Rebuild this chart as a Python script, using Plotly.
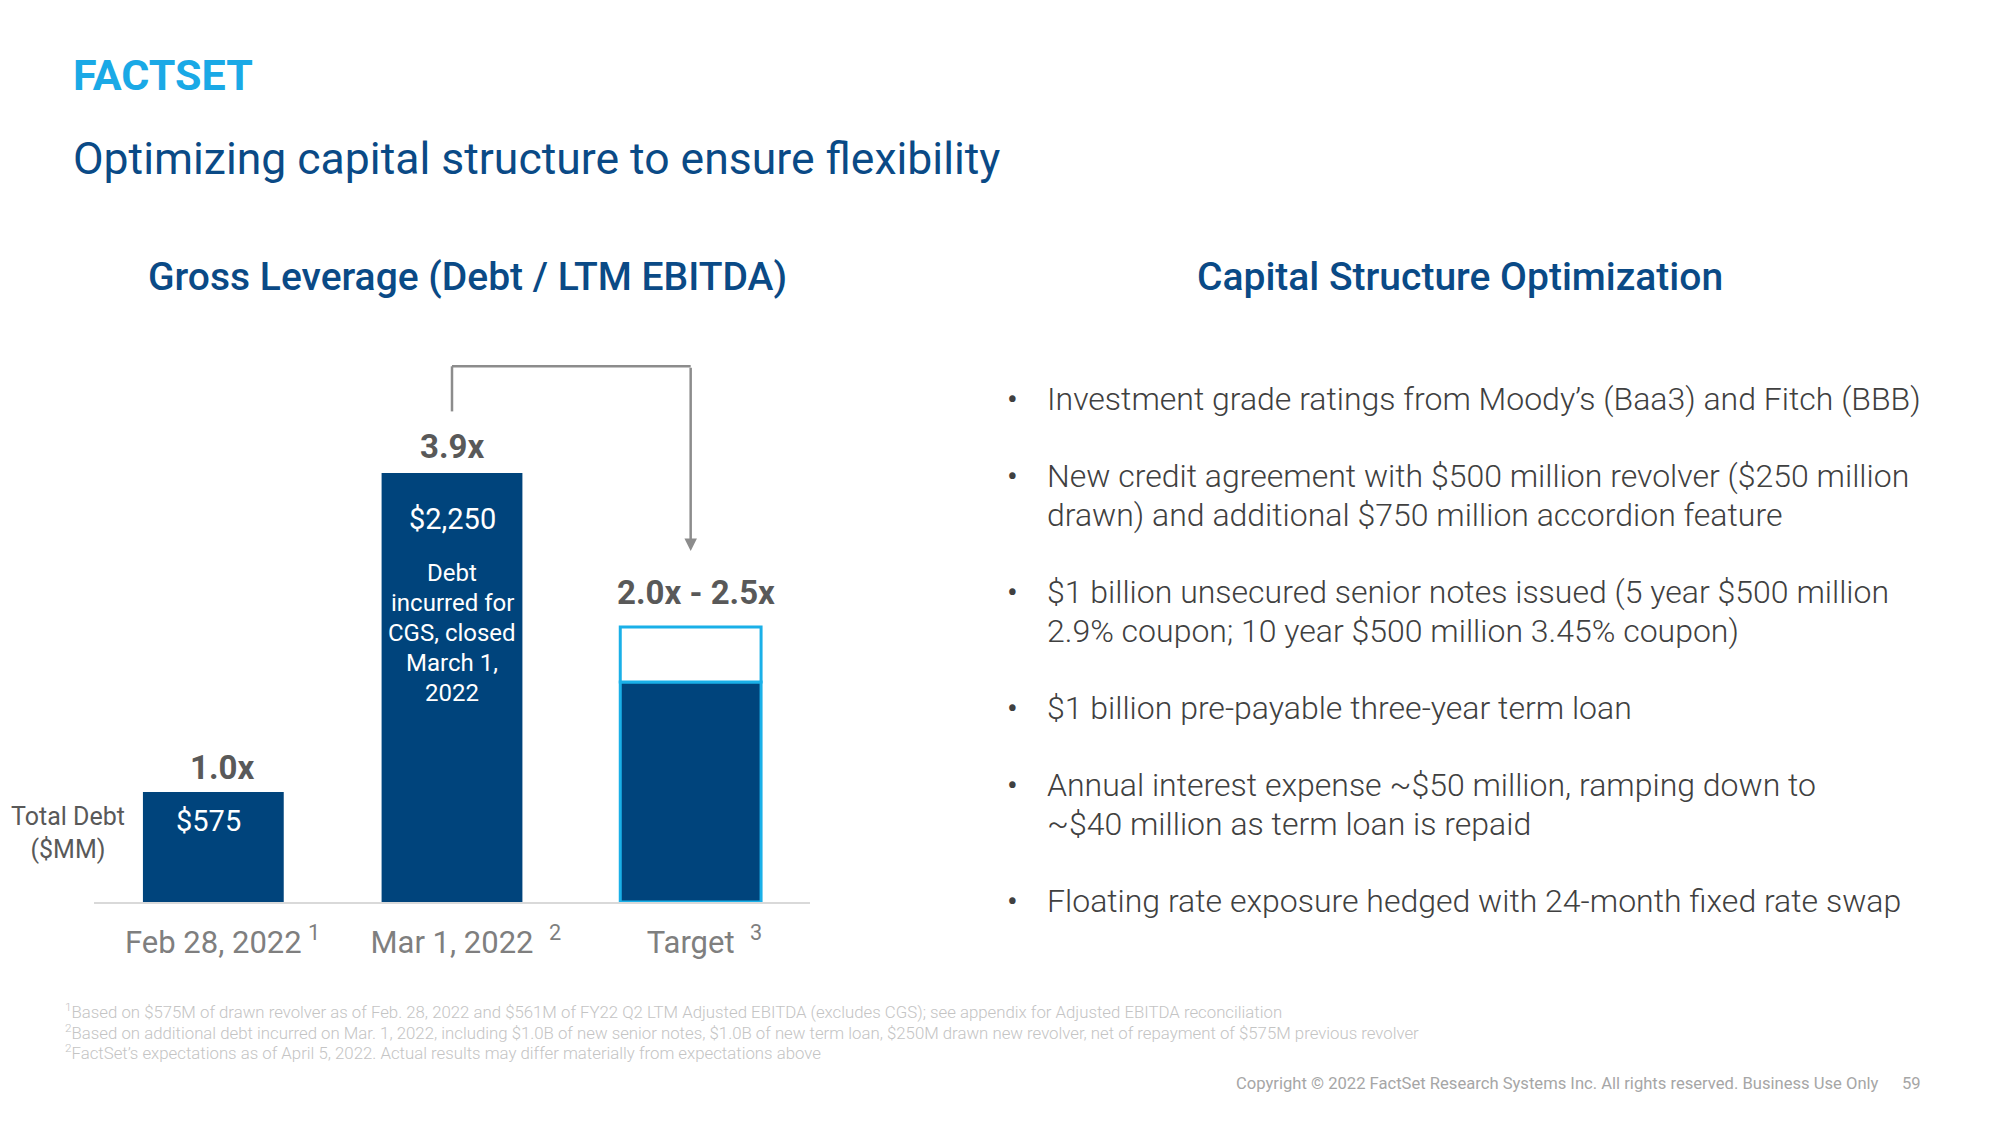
import plotly.graph_objects as go

# ---------------- data ----------------
categories = ["Feb 28, 2022", "Mar 1, 2022", "Target"]
footnote_refs = ["1", "2", "3"]
leverage = [1.0, 3.9, 2.0]           # gross leverage (x), bar heights
target_upper = 2.5                    # upper end of target range
leverage_labels = ["1.0x", "3.9x", "2.0x - 2.5x"]
debt_labels = ["$575", "$2,250"]      # total debt ($MM)
bar2_note = ["Debt", "incurred for", "CGS, closed", "March 1,", "2022"]

bullets = [
    ["Investment grade ratings from Moody’s (Baa3) and Fitch (BBB)"],
    ["New credit agreement with $500 million revolver ($250 million",
     "drawn) and additional $750 million accordion feature"],
    ["$1 billion unsecured senior notes issued (5 year $500 million",
     "2.9% coupon; 10 year $500 million 3.45% coupon)"],
    ["$1 billion pre-payable three-year term loan"],
    ["Annual interest expense ~$50 million, ramping down to",
     "~$40 million as term loan is repaid"],
    ["Floating rate exposure hedged with 24-month fixed rate swap"],
]

footnotes = [
    ("1", "Based on $575M of drawn revolver as of Feb. 28, 2022 and $561M of FY22 Q2 LTM Adjusted EBITDA (excludes CGS); see appendix for Adjusted EBITDA reconciliation"),
    ("2", "Based on additional debt incurred on Mar. 1, 2022, including $1.0B of new senior notes, $1.0B of new term loan, $250M drawn new revolver, net of repayment of $575M previous revolver"),
    ("2", "FactSet’s expectations as of April 5, 2022. Actual results may differ materially from expectations above"),
]

# ---------------- styles ----------------
OFF = 8                      # page body margin
W, H = 2000 - OFF, 1125 - OFF
NAVY = "#00447c"
CYAN = "#1ab0e8"
TITLE_BLUE = "#0a4a86"
GRAY_DARK = "#595959"
FONT = "Roboto"

def py(px):
    return 1 - (px - OFF) / H

def pxx(px):
    return (px - OFF) / W

fig = go.Figure()

fig.add_trace(go.Bar(
    x=categories[:2], y=leverage[:2], marker=dict(color=NAVY, line=dict(width=0)),
    width=0.59, showlegend=False, hoverinfo="skip"))
fig.add_trace(go.Bar(
    x=categories[2:], y=leverage[2:], marker=dict(color=NAVY, line=dict(color=CYAN, width=3)),
    width=0.59, showlegend=False, hoverinfo="skip"))
fig.add_trace(go.Bar(
    x=categories[2:], y=[target_upper - leverage[2]], base=[leverage[2]],
    marker=dict(color="white", line=dict(color=CYAN, width=3)),
    width=0.59, showlegend=False, hoverinfo="skip"))

gaps = ["\u2009", "\u00a0\u00a0", "\u00a0\u00a0"]
ticktext = [
    f'<span style="color:rgba(0,0,0,0)"><sup>{r}</sup>{g}</span>{c}{g}<sup>{r}</sup>'
    for c, g, r in zip(categories, gaps, footnote_refs)
]

fig.update_layout(
    width=W, height=H, margin=dict(l=0, r=0, t=0, b=0),
    paper_bgcolor="white", plot_bgcolor="white",
    barmode="overlay", bargap=0.4,
    font=dict(family=FONT, color=GRAY_DARK),
    xaxis=dict(domain=[pxx(94), pxx(810)], range=[-0.5, 2.5], type="category",
               categoryorder="array", categoryarray=categories,
               tickvals=categories, ticktext=ticktext, showline=True,
               linecolor="#d9d9d9", linewidth=2, showgrid=False, ticks="",
               tickfont=dict(size=31, color="#7f7f7f", family=FONT),
               ticklabelstandoff=12, fixedrange=True),
    yaxis=dict(domain=[py(902), py(352)], range=[0, 5], visible=False,
               showgrid=False, zeroline=False, fixedrange=True),
)

ann = []
tops = [leverage[0], leverage[1], target_upper]
for c, t, lab, sh, xs in zip(categories, tops, leverage_labels, [3, 5, 13], [9, 0, 5]):
    ann.append(dict(x=c, y=t, xref="x", yref="y", text=f"<b>{lab}</b>", showarrow=False,
                    yanchor="bottom", yshift=sh, xshift=xs,
                    font=dict(size=33, color=GRAY_DARK, family=FONT)))
for c, t, lab, sh, xs in zip(categories[:2], leverage[:2], debt_labels, [-10, -27], [-5, 0]):
    ann.append(dict(x=c, y=t, xref="x", yref="y", text=lab, showarrow=False,
                    yanchor="top", yshift=sh, xshift=xs,
                    font=dict(size=29, color="white", family=FONT)))
for i, line in enumerate(bar2_note):
    ann.append(dict(x=categories[1], y=leverage[1], xref="x", yref="y", text=line,
                    showarrow=False, yanchor="middle", yshift=-(100 + 30 * i), align="center",
                    font=dict(size=24, color="white", family=FONT)))
ann.append(dict(x=pxx(68), y=py(833), xref="paper", yref="paper", text="Total Debt<br>($MM)",
                showarrow=False, align="center", xanchor="center", yanchor="middle",
                font=dict(size=25, color=GRAY_DARK, family=FONT)))
# bracket arrow (from Mar 1 to Target)
ann.append(dict(x=categories[2], y=3.19, ax=categories[2], ay=4.87, xref="x", yref="y",
                axref="x", ayref="y", text="", showarrow=True, arrowhead=2, arrowsize=1,
                arrowwidth=2.5, arrowcolor="#8c8c8c"))

shapes = [
    dict(type="line", xref="x", yref="y", x0=categories[1], x1=categories[1], y0=4.46, y1=4.87,
         line=dict(color="#8c8c8c", width=2.5)),
    dict(type="line", xref="x", yref="y", x0=categories[1], x1=categories[2], y0=4.87, y1=4.87,
         line=dict(color="#8c8c8c", width=2.5)),
]

# header
ann.append(dict(x=pxx(71), y=py(75), xref="paper", yref="paper", text="<b>FACTSET</b>",
                showarrow=False, xanchor="left", yanchor="middle",
                font=dict(size=43, color="#1aa9e6", family="Roboto")))
ann.append(dict(x=pxx(71), y=py(159), xref="paper", yref="paper",
                text="Optimizing capital structure to ensure flexibility",
                showarrow=False, xanchor="left", yanchor="middle",
                font=dict(size=44.5, color=TITLE_BLUE, family=FONT)))
ann.append(dict(x=pxx(467), y=py(277), xref="paper", yref="paper",
                text="Gross Leverage (Debt / LTM EBITDA)",
                showarrow=False, xanchor="center", yanchor="middle",
                font=dict(size=39, color=TITLE_BLUE, family=FONT, weight=500)))
ann.append(dict(x=pxx(1460), y=py(277), xref="paper", yref="paper",
                text="Capital Structure Optimization",
                showarrow=False, xanchor="center", yanchor="middle",
                font=dict(size=39, color=TITLE_BLUE, family=FONT, weight=500)))

# bullets
y = 399
for b in bullets:
    ann.append(dict(x=pxx(1012), y=py(y), xref="paper", yref="paper", text="•",
                    showarrow=False, xanchor="center", yanchor="middle",
                    font=dict(size=32, color="#404040", family=FONT)))
    for i, line in enumerate(b):
        ann.append(dict(x=pxx(1045), y=py(y), xref="paper", yref="paper", text=line,
                        showarrow=False, xanchor="left", yanchor="middle",
                        font=dict(size=32, color="#404040", family=FONT, weight=300)))
        if i < len(b) - 1:
            y += 39
    y += 77

# footnotes
fy = 1011
for ref, txt in footnotes:
    ann.append(dict(x=pxx(63), y=py(fy), xref="paper", yref="paper",
                    text=f"<sup>{ref}</sup>{txt}", showarrow=False, xanchor="left",
                    yanchor="middle", font=dict(size=16.8, color="#c4c4c4", family=FONT, weight=300)))
    fy += 20.5

ann.append(dict(x=pxx(1881), y=py(1083), xref="paper", yref="paper",
                text="Copyright © 2022 FactSet Research Systems Inc. All rights reserved. Business Use Only",
                showarrow=False, xanchor="right", yanchor="middle",
                font=dict(size=16.6, color="#a6a6a6", family=FONT)))
ann.append(dict(x=pxx(1911), y=py(1083), xref="paper", yref="paper", text="59",
                showarrow=False, xanchor="center", yanchor="middle",
                font=dict(size=16.6, color="#a6a6a6", family=FONT)))

fig.update_layout(annotations=ann, shapes=shapes)
fig.write_html("out.html", config={"displayModeBar": False})
